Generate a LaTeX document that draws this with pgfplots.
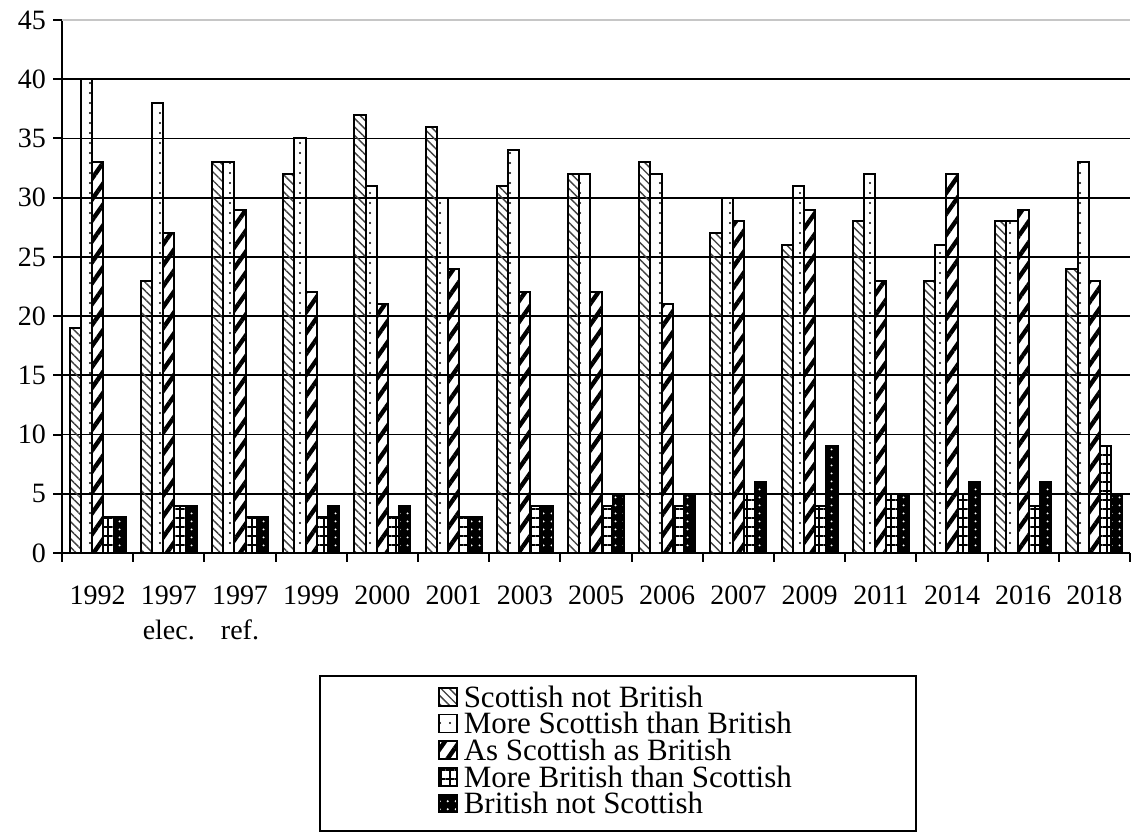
\documentclass[border=0pt]{standalone}
\usepackage{fontspec}
\setmainfont{Liberation Serif}
\usepackage{pgfplots}
\pgfplotsset{compat=1.18}
\usetikzlibrary{patterns.meta}

\begin{document}
\begin{tikzpicture}
\useasboundingbox (-31pt,-140pt) rectangle (535pt,276.5pt);
\begin{axis}[
 at={(0,0)}, anchor=south west,
 scale only axis, width=534pt, height=266.5pt,
 ybar=0pt, bar width=5.6pt,
 xmin=-0.5, xmax=14.5, ymin=0, ymax=45,
 axis lines=left, axis line style={-, line width=1.2pt},
 ytick={0,5,...,40},
 extra y ticks={45},
 extra y tick style={grid style={gray!45, line width=0.7pt}},
 ymajorgrids, grid style={black, line width=0.9pt},
 xtick={-0.5,0.5,...,14.5}, xticklabels={},
 extra x ticks={0,1,...,14},
 extra x tick labels={1992,{1997\\elec.},{1997\\ref.},1999,2000,2001,2003,2005,2006,2007,2009,2011,2014,2016,2018},
 extra x tick style={major tick length=0pt},
 tick align=outside, major tick length=4.5pt,
 tick style={black, line width=1pt},
 tick label style={font=\fontsize{14}{17.5}\selectfont},
 /pgf/number format/assume math mode=true,
 xticklabel style={align=center, yshift=-13pt},
 legend style={at={(0.5206,-0.2289)}, anchor=north, draw=black, line width=1pt,
   inner xsep=59pt, inner ysep=5.4pt, font=\fontsize{15.5}{15.5}\selectfont, row sep=0pt,
   nodes={inner xsep=3pt, inner ysep=0pt, text height=10.3pt, text depth=3pt}},
 legend cell align=left,
 legend image code/.code={\draw[#1, line width=0.8pt] (0pt,-3pt) rectangle (9pt,6pt);},
]
\addplot[draw=black, line width=1pt, pattern={Lines[angle=-45, distance=3pt, line width=0.7pt]}, pattern color=black!75]
 coordinates {(0,19) (1,23) (2,33) (3,32) (4,37) (5,36) (6,31) (7,32) (8,33) (9,27) (10,26) (11,28) (12,23) (13,28) (14,24)};
\addplot[draw=black, line width=1pt, pattern={Dots[distance=5pt, radius=0.55pt]}]
 coordinates {(0,40) (1,38) (2,33) (3,35) (4,31) (5,30) (6,34) (7,32) (8,32) (9,30) (10,31) (11,32) (12,26) (13,28) (14,33)};
\addplot[draw=black, line width=1pt, pattern={Lines[angle=55, distance=6pt, line width=2.2pt]}]
 coordinates {(0,33) (1,27) (2,29) (3,22) (4,21) (5,24) (6,22) (7,22) (8,21) (9,28) (10,29) (11,23) (12,32) (13,29) (14,23)};
\addplot[draw=black, line width=1pt, pattern={Hatch[distance=4.5pt, line width=0.6pt]}]
 coordinates {(0,3) (1,4) (2,3) (3,3) (4,3) (5,3) (6,4) (7,4) (8,4) (9,5) (10,4) (11,5) (12,5) (13,4) (14,9)};
\addplot[draw=black, line width=1pt, fill=black, postaction={pattern={Dots[distance=4pt, radius=0.6pt]}, pattern color=white}]
 coordinates {(0,3) (1,4) (2,3) (3,4) (4,4) (5,3) (6,4) (7,5) (8,5) (9,6) (10,9) (11,5) (12,6) (13,6) (14,5)};
\legend{Scottish not British, More Scottish than British, As Scottish as British, More British than Scottish, British not Scottish}
\end{axis}
\end{tikzpicture}
\end{document}
